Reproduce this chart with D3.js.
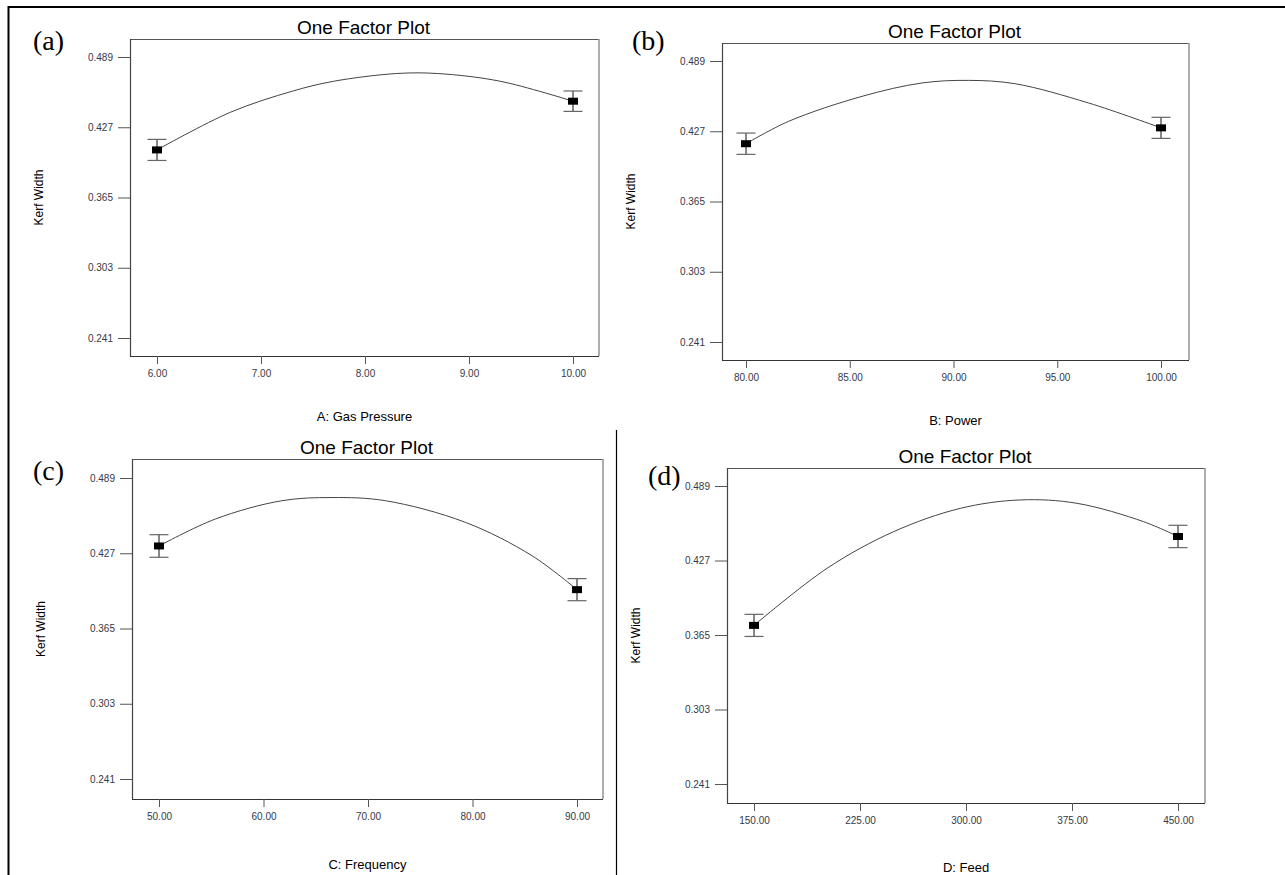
<!DOCTYPE html>
<html>
<head>
<meta charset="utf-8">
<script src="https://cdn.jsdelivr.net/npm/d3@7"></script>
<style>
  body { margin: 0; background: #fff; }
  svg { display: block; }
</style>
</head>
<body>
<div id="chart"></div>
<script>
// valores
const tags = ["(a)", "(b)", "(c)", "(d)"];
const factorNames = ["A: Gas Pressure", "B: Power", "C: Frequency", "D: Feed"];
const yTicks = [0.241, 0.303, 0.365, 0.427, 0.489];

const xTicksA = [6, 7, 8, 9, 10];
const xTicksB = [80, 85, 90, 95, 100];
const xTicksC = [50, 60, 70, 80, 90];
const xTicksD = [150, 225, 300, 375, 450];

// puntos medios con barras de error
const levelsA = [6, 10],   meansA = [0.407, 0.450], errA = [0.0093, 0.0090];
const levelsB = [80, 100], meansB = [0.416, 0.430], errB = [0.0094, 0.0093];
const levelsC = [50, 90],  meansC = [0.433, 0.397], errC = [0.0093, 0.0091];
const levelsD = [150, 450], meansD = [0.373, 0.447], errD = [0.0092, 0.0093];

// curva de prediccion (puntos leidos)
const curveXA = [6, 6.7, 7.3, 7.7, 8.3, 8.7, 9.3, 10];
const curveYA = [0.407, 0.4400, 0.4588, 0.4676, 0.4744, 0.4744, 0.4676, 0.450];
const curveXB = [80, 82.06, 85.59, 88.48, 90.73, 92.98, 96.52, 100];
const curveYB = [0.416, 0.4358, 0.4578, 0.4696, 0.4719, 0.4689, 0.4519, 0.430];
const curveXC = [50, 55.39, 61.77, 66.56, 71.66, 79.31, 85.69, 90];
const curveYC = [0.433, 0.4552, 0.4703, 0.4729, 0.4703, 0.4525, 0.425, 0.397];
const curveXD = [150, 201.7, 248.8, 296, 338.4, 378.5, 425.7, 450];
const curveYD = [0.373, 0.4205, 0.451, 0.4704, 0.4774, 0.4746, 0.4593, 0.447];

// posiciones de cada panel
const layout = [
  { x0: 130, y0: 39,  x1: 599,  y1: 356, inL: 27, inR: 26, inT: 18, inB: 18, tagX: 33,  tagY: 50,  titleDy: 65 },
  { x0: 722, y0: 43,  x1: 1189, y1: 360, inL: 24, inR: 28, inT: 18, inB: 18, tagX: 632, tagY: 50,  titleDy: 65 },
  { x0: 132, y0: 459, x1: 603,  y1: 799, inL: 27, inR: 26, inT: 19, inB: 20, tagX: 33,  tagY: 480, titleDy: 70 },
  { x0: 727, y0: 468, x1: 1205, y1: 803, inL: 27, inR: 27, inT: 18, inB: 19, tagX: 648, tagY: 485, titleDy: 69 }
];

const panels = [
  { ticks: xTicksA, levels: levelsA, means: meansA, err: errA, cx: curveXA, cy: curveYA },
  { ticks: xTicksB, levels: levelsB, means: meansB, err: errB, cx: curveXB, cy: curveYB },
  { ticks: xTicksC, levels: levelsC, means: meansC, err: errC, cx: curveXC, cy: curveYC },
  { ticks: xTicksD, levels: levelsD, means: meansD, err: errD, cx: curveXD, cy: curveYD }
];

const width = 1285, height = 875;
const sans = "Arial, 'Liberation Sans', sans-serif";

const svg = d3.select("#chart").append("svg")
  .attr("width", width)
  .attr("height", height);

// marco exterior
svg.append("line").attr("x1", 8).attr("x2", width).attr("y1", 7).attr("y2", 7)
  .attr("stroke", "#000").attr("stroke-width", 2);
svg.append("line").attr("x1", 8.5).attr("x2", 8.5).attr("y1", 6).attr("y2", height)
  .attr("stroke", "#000").attr("stroke-width", 2);
svg.append("line").attr("x1", 616.5).attr("x2", 616.5).attr("y1", 430).attr("y2", height)
  .attr("stroke", "#000").attr("stroke-width", 1.2);

panels.forEach((p, i) => {
  const L = layout[i];
  const g = svg.append("g");

  const x = d3.scaleLinear()
    .domain(d3.extent(p.ticks))
    .range([L.x0 + L.inL, L.x1 - L.inR]);
  const y = d3.scaleLinear()
    .domain([yTicks[0], yTicks[yTicks.length - 1]])
    .range([L.y1 - L.inB, L.y0 + L.inT]);

  // caja
  g.append("line").attr("x1", L.x0).attr("x2", L.x1).attr("y1", L.y0 + 0.5).attr("y2", L.y0 + 0.5)
    .attr("stroke", "#555").attr("stroke-width", 1);
  g.append("line").attr("x1", L.x1).attr("x2", L.x1).attr("y1", L.y0).attr("y2", L.y1)
    .attr("stroke", "#999").attr("stroke-width", 1.6);
  g.append("line").attr("x1", L.x0 + 0.5).attr("x2", L.x0 + 0.5).attr("y1", L.y0).attr("y2", L.y1)
    .attr("stroke", "#444").attr("stroke-width", 1.2);
  g.append("line").attr("x1", L.x0).attr("x2", L.x1).attr("y1", L.y1 + 0.5).attr("y2", L.y1 + 0.5)
    .attr("stroke", "#333").attr("stroke-width", 1.2);

  // eje y
  const yAxis = g.append("g")
    .attr("transform", `translate(${L.x0},0)`)
    .call(d3.axisLeft(y).tickValues(yTicks).tickFormat(d3.format(".3f")).tickSize(12).tickPadding(5));
  yAxis.select(".domain").remove();
  yAxis.selectAll("line").attr("stroke", "#555");
  yAxis.selectAll("text").attr("fill", "#343848").style("font", `10px ${sans}`);

  // eje x
  const xAxis = g.append("g")
    .attr("transform", `translate(0,${L.y1})`)
    .call(d3.axisBottom(x).tickValues(p.ticks).tickFormat(d3.format(".2f")).tickSize(8).tickPadding(6));
  xAxis.select(".domain").remove();
  xAxis.selectAll("line").attr("stroke", "#555");
  xAxis.selectAll("text").attr("fill", "#343848").style("font", `10px ${sans}`);

  // titulos
  g.append("text")
    .attr("x", (L.x0 + L.x1) / 2 - 1)
    .attr("y", L.y0 - 5)
    .attr("text-anchor", "middle")
    .style("font", `19px ${sans}`)
    .text("One Factor Plot");

  g.append("text")
    .attr("x", (L.x0 + L.x1) / 2)
    .attr("y", L.y1 + L.titleDy)
    .attr("text-anchor", "middle")
    .style("font", `13px ${sans}`)
    .text(factorNames[i]);

  g.append("text")
    .attr("transform", `translate(${L.x0 - 87},${(L.y0 + L.y1) / 2}) rotate(-90)`)
    .attr("text-anchor", "middle")
    .style("font", `12px ${sans}`)
    .text("Kerf Width");

  g.append("text")
    .attr("x", L.tagX)
    .attr("y", L.tagY)
    .style("font", `28px 'Liberation Serif', 'Times New Roman', serif`)
    .text(tags[i]);

  // curva
  const pts = p.cx.map((v, k) => [v, p.cy[k]]);
  g.append("path")
    .datum(pts)
    .attr("fill", "none")
    .attr("stroke", "#444")
    .attr("stroke-width", 1)
    .attr("d", d3.line().x(d => x(d[0])).y(d => y(d[1])).curve(d3.curveCatmullRom.alpha(0.5)));

  // barras de error y marcadores
  p.levels.forEach((lv, k) => {
    const cx = x(lv);
    const lo = y(p.means[k] - p.err[k]), hi = y(p.means[k] + p.err[k]);
    g.append("line").attr("x1", cx).attr("x2", cx).attr("y1", lo).attr("y2", hi)
      .attr("stroke", "#111").attr("stroke-width", 1);
    [lo, hi].forEach(yy => {
      g.append("line").attr("x1", cx - 9.5).attr("x2", cx + 9.5).attr("y1", yy).attr("y2", yy)
        .attr("stroke", "#666").attr("stroke-width", 1.2);
    });
    g.append("rect")
      .attr("x", cx - 5).attr("y", y(p.means[k]) - 3.5)
      .attr("width", 10).attr("height", 7)
      .attr("fill", "#000");
  });
});
</script>
</body>
</html>
